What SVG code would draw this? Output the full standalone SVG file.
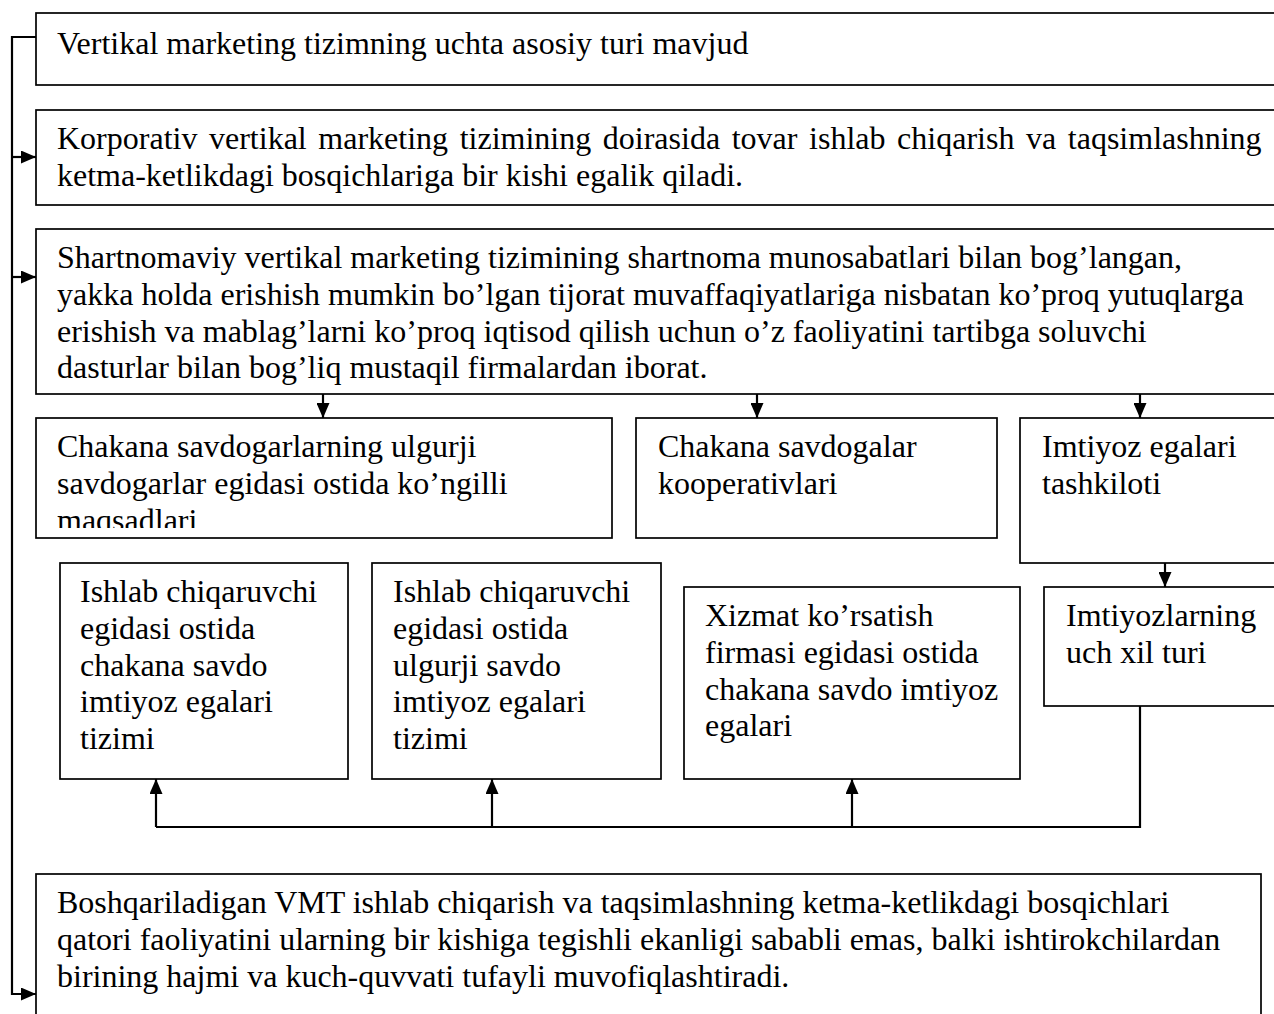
<svg xmlns="http://www.w3.org/2000/svg" width="1274" height="1014" viewBox="0 0 1274 1014">
<style>
.box{fill:#fff;stroke:#000;stroke-width:1.7}
.t{font-family:"Liberation Serif","Times New Roman",serif;font-size:32px;fill:#000}
.c{fill:none;stroke:#000;stroke-width:2.2}
</style>
<defs>
<marker id="ah" viewBox="0 0 15 13" refX="15" refY="6.5" markerWidth="15" markerHeight="13" markerUnits="userSpaceOnUse" orient="auto">
<path d="M0,0 L15,6.5 L0,13 z" fill="#000"/>
</marker>
<clipPath id="clipA"><rect x="36" y="418" width="576" height="110"/></clipPath>
</defs>
<rect width="1274" height="1014" fill="#fff"/>

<g id="n1">
<rect class="box" x="36" y="13" width="1260" height="72"/>
<text class="t" x="57" y="54">Vertikal marketing tizimning uchta asosiy turi mavjud</text>
</g>

<g id="n2">
<rect class="box" x="36" y="110" width="1260" height="95"/>
<text class="t" x="57" y="149" word-spacing="3.6">Korporativ vertikal marketing tizimining doirasida tovar ishlab chiqarish va taqsimlashning</text>
<text class="t" x="57" y="185.8">ketma-ketlikdagi bosqichlariga bir kishi egalik qiladi.</text>
</g>

<g id="n3">
<rect class="box" x="36" y="229" width="1260" height="165"/>
<text class="t" x="57" y="268">Shartnomaviy vertikal marketing tizimining shartnoma munosabatlari bilan bog’langan,</text>
<text class="t" x="57" y="304.8">yakka holda erishish mumkin bo’lgan tijorat muvaffaqiyatlariga nisbatan ko’proq yutuqlarga</text>
<text class="t" x="57" y="341.6">erishish va mablag’larni ko’proq iqtisod qilish uchun o’z faoliyatini tartibga soluvchi</text>
<text class="t" x="57" y="378.4">dasturlar bilan bog’liq mustaqil firmalardan iborat.</text>
</g>

<g id="n4">
<rect class="box" x="36" y="418" width="576" height="120"/>
<g clip-path="url(#clipA)">
<text class="t" x="57" y="457">Chakana savdogarlarning ulgurji</text>
<text class="t" x="57" y="493.8">savdogarlar egidasi ostida ko’ngilli</text>
<text class="t" x="57" y="530.6">maqsadlari</text>
</g>
</g>

<g id="n5">
<rect class="box" x="636" y="418" width="361" height="120"/>
<text class="t" x="658" y="457">Chakana savdogalar</text>
<text class="t" x="658" y="493.8">kooperativlari</text>
</g>

<g id="n6">
<rect class="box" x="1020" y="418" width="276" height="145"/>
<text class="t" x="1042" y="457">Imtiyoz egalari</text>
<text class="t" x="1042" y="493.8">tashkiloti</text>
</g>

<g id="n7">
<rect class="box" x="60" y="563" width="288" height="216"/>
<text class="t" x="80" y="602">Ishlab chiqaruvchi</text>
<text class="t" x="80" y="638.8">egidasi ostida</text>
<text class="t" x="80" y="675.6">chakana savdo</text>
<text class="t" x="80" y="712.4">imtiyoz egalari</text>
<text class="t" x="80" y="749.2">tizimi</text>
</g>

<g id="n8">
<rect class="box" x="372" y="563" width="289" height="216"/>
<text class="t" x="393" y="602">Ishlab chiqaruvchi</text>
<text class="t" x="393" y="638.8">egidasi ostida</text>
<text class="t" x="393" y="675.6">ulgurji savdo</text>
<text class="t" x="393" y="712.4">imtiyoz egalari</text>
<text class="t" x="393" y="749.2">tizimi</text>
</g>

<g id="n9">
<rect class="box" x="684" y="587" width="336" height="192"/>
<text class="t" x="705" y="626">Xizmat ko’rsatish</text>
<text class="t" x="705" y="662.8">firmasi egidasi ostida</text>
<text class="t" x="705" y="699.6">chakana savdo imtiyoz</text>
<text class="t" x="705" y="736.4">egalari</text>
</g>

<g id="n10">
<rect class="box" x="1044" y="587" width="252" height="119"/>
<text class="t" x="1066" y="626">Imtiyozlarning</text>
<text class="t" x="1066" y="662.8">uch xil turi</text>
</g>

<g id="n11">
<rect class="box" x="36" y="874" width="1225" height="170"/>
<text class="t" x="57" y="913">Boshqariladigan VMT ishlab chiqarish va taqsimlashning ketma-ketlikdagi bosqichlari</text>
<text class="t" x="57" y="949.8">qatori faoliyatini ularning bir kishiga tegishli ekanligi sababli emas, balki ishtirokchilardan</text>
<text class="t" x="57" y="986.6">birining hajmi va kuch-quvvati tufayli muvofiqlashtiradi.</text>
</g>

<g id="connectors">
<path class="c" d="M36,37 H12 V994 H36" marker-end="url(#ah)"/>
<path class="c" d="M12,157 H36" marker-end="url(#ah)"/>
<path class="c" d="M12,277 H36" marker-end="url(#ah)"/>
<path class="c" d="M323,394 V418" marker-end="url(#ah)"/>
<path class="c" d="M757,394 V418" marker-end="url(#ah)"/>
<path class="c" d="M1140,394 V418" marker-end="url(#ah)"/>
<path class="c" d="M1165,563 V587" marker-end="url(#ah)"/>
<path class="c" d="M1140,706 V827 H156"/>
<path class="c" d="M156,827 V779" marker-end="url(#ah)"/>
<path class="c" d="M492,827 V779" marker-end="url(#ah)"/>
<path class="c" d="M852,827 V779" marker-end="url(#ah)"/>
</g>
</svg>
